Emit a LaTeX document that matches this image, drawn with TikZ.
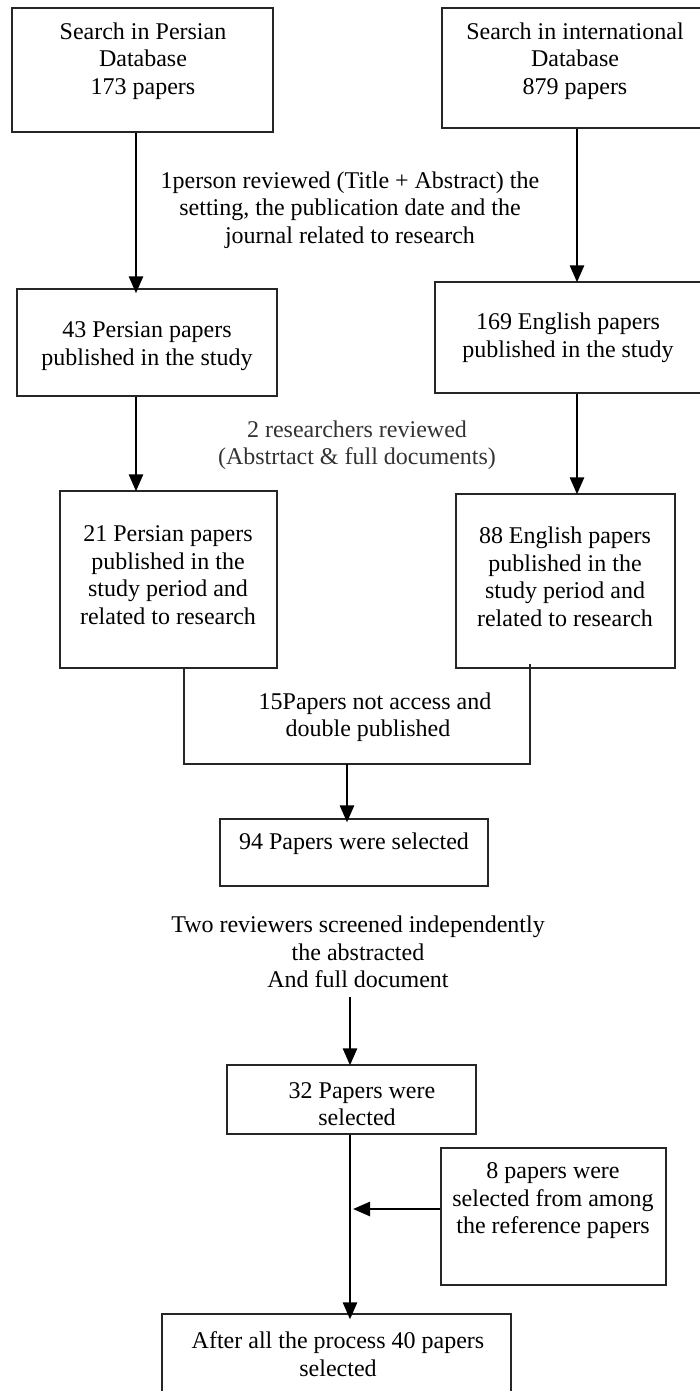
\documentclass[tikz,border=0pt]{standalone}
\usepackage{fontspec}
\setmainfont{Liberation Serif}
\usetikzlibrary{arrows.meta}
\begin{document}
\begin{tikzpicture}[x=1pt,y=-1pt,
  box/.style={draw=black!85,line width=1.3pt,rectangle,inner sep=0pt},
  txt/.style={align=center,font=\fontsize{24}{27.5}\selectfont,inner sep=0pt,text=black},
  lbl/.style={align=center,font=\fontsize{24}{27.5}\selectfont,inner sep=0pt,text=black!80},
  arr/.style={line width=2.6pt,-{Triangle[length=17pt,width=14pt]}},
  thin/.style={draw=black!85,line width=1.3pt}]
\useasboundingbox (0,0) rectangle (699,1391);
% boxes
\node[box,minimum width=261pt,minimum height=124pt] (B1) at (142.5,70) {};
\node[box,minimum width=259pt,minimum height=120pt] (B2) at (571.5,68) {};
\node[box,minimum width=260pt,minimum height=107pt] (B3) at (147,342.5) {};
\node[box,minimum width=266pt,minimum height=111pt] (B4) at (568,337.5) {};
\node[box,minimum width=217pt,minimum height=177pt] (B5) at (168.5,579.5) {};
\node[box,minimum width=219pt,minimum height=174pt] (B6) at (565.5,581) {};
\node[box,minimum width=268pt,minimum height=67pt] (B94) at (354,852.5) {};
\node[box,minimum width=249pt,minimum height=69pt] (B32) at (351.5,1099.5) {};
\node[box,minimum width=225pt,minimum height=137pt] (B8) at (553.5,1216.5) {};
\node[box,minimum width=349pt,minimum height=82pt] (BF) at (336.5,1355) {};
% box texts
\node[txt] (T1) at (143,61) {Search in Persian\\Database\\173 papers};
\node[txt] (T2) at (575,61) {Search in international\\Database\\879 papers};
\node[txt] (T3) at (147,346) {43 Persian papers\\published in the study};
\node[txt] (T4) at (568,338) {169 English papers\\published in the study};
\node[txt] (T5) at (168,575) {21 Persian papers\\published in the\\study period and\\related to research};
\node[txt] (T6) at (565,577) {88 English papers\\published in the\\study period and\\related to research};
\node[txt] (T94) at (354,844) {94 Papers were selected};
\node[txt] (T32) at (357,1104) {\hspace*{10pt}32 Papers were\\selected};
\node[txt] (T8) at (553,1201) {8 papers were\\selected from among\\the reference papers};
\node[txt] (TF) at (338,1354) {After all the process 40 papers\\selected};
% labels
\node[txt] (L1) at (350,210) {1person reviewed (Title + Abstract) the\\setting, the publication date and the\\journal related to research};
\node[lbl] (L2) at (357,445) {2 researchers reviewed\\(Abstrtact \& full documents)};
\node[txt] (L3) at (368,717) {\hspace*{14pt}15Papers not access and\\double published};
\node[txt] (L4) at (358,952) {Two reviewers screened independently\\the abstracted\\And full document};
% coordinates
\coordinate (cl) at (136,0);
\coordinate (cr) at (577,0);
\coordinate (bl) at (184,764);
\coordinate (br) at (530,764);
\coordinate (bm) at (347,764);
\coordinate (c4) at (350,997);
\coordinate (cm) at (350,0);
\coordinate (cj) at (353,1209);
% arrows
\draw[arr] (B1.south -| cl) -- ([yshift=-5pt]B3.north -| cl);
\draw[arr] (B2.south -| cr) -- ([yshift=-1pt]B4.north -| cr);
\draw[arr] (B3.south -| cl) -- ([yshift=-1pt]B5.north -| cl);
\draw[arr] (B4.south -| cr) -- ([yshift=-1pt]B6.north -| cr);
\draw[thin] ([yshift=2pt]B5.south -| bl) -- (bl) -- (br) -- ([yshift=5pt]B6.south -| br);
\draw[arr] (bm) -- ([yshift=-4pt]B94.north -| bm);
\draw[arr] (c4) -- ([yshift=-1pt]B32.north -| c4);
\draw[arr] (B32.south -| cm) -- ([yshift=-6pt]BF.north -| cm);
\draw[arr] (B8.west |- cj) -- (cj);
\end{tikzpicture}
\end{document}
